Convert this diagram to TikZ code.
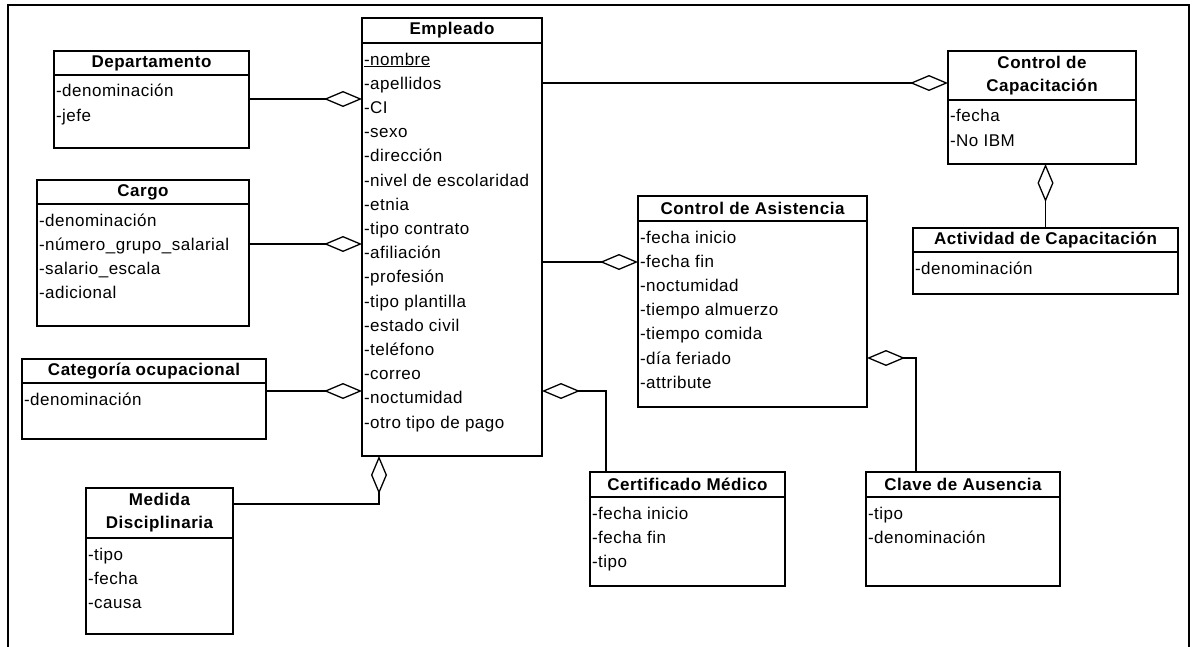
\documentclass[tikz,border=0pt]{standalone}
\usepackage{fontspec}
\setmainfont{Liberation Sans}[LetterSpace=3.0]
\usetikzlibrary{arrows.meta,positioning}
\newcommand{\attrs}[3]{\parbox[c][#2][t]{#1}{\fontsize{17}{24.2}\selectfont\raggedright\leftskip=2pt\rule{0pt}{22pt}#3}}
\tikzset{
  clshead/.style={draw, line width=1.3pt, anchor=north west, inner sep=0pt, outer sep=0pt, align=center, font=\fontsize{17}{23}\selectfont\bfseries},
  clsbody/.style={draw, line width=1.3pt, inner sep=0pt, outer sep=0pt},
  aggr/.style={-{Diamond[open,length=38pt,width=16pt]}, line width=1.3pt}
}

\begin{document}
\begin{tikzpicture}[x=1pt, y=-1pt]
\useasboundingbox (0,0) rectangle (1193,647);
\draw[line width=2pt] (8,647) -- (8,5) -- (1189,5) -- (1189,647);

\node[clshead, minimum width=180pt, minimum height=25pt] (emp) at (362,18) {Empleado};
\node[clsbody, below=0pt of emp] (empb) {\attrs{180pt}{413pt}{\underline{-nombre}\\-apellidos\\-CI\\-sexo\\-dirección\\-nivel de escolaridad\\-etnia\\-tipo contrato\\-afiliación\\-profesión\\-tipo plantilla\\-estado civil\\-teléfono\\-correo\\-noctumidad\\-otro tipo de pago}};

\node[clshead, minimum width=195pt, minimum height=24pt] (dep) at (54,51) {Departamento};
\node[clsbody, below=0pt of dep] (depb) {\attrs{195pt}{73pt}{-denominación\\-jefe}};

\node[clshead, minimum width=212pt, minimum height=24pt] (cargo) at (37,180) {Cargo};
\node[clsbody, below=0pt of cargo] (cargob) {\attrs{212pt}{122pt}{-denominación\\-número\_grupo\_salarial\\-salario\_escala\\-adicional}};

\node[clshead, minimum width=244pt, minimum height=24pt] (cat) at (22,359) {Categoría ocupacional};
\node[clsbody, below=0pt of cat] (catb) {\attrs{244pt}{56pt}{-denominación}};

\node[clshead, minimum width=147pt, minimum height=50pt] (med) at (86,488) {Medida\\Disciplinaria};
\node[clsbody, below=0pt of med] (medb) {\attrs{147pt}{96pt}{-tipo\\-fecha\\-causa}};

\node[clshead, minimum width=188pt, minimum height=49pt] (cc) at (948,51) {Control de\\Capacitación};
\node[clsbody, below=0pt of cc] (ccb) {\attrs{188pt}{64pt}{-fecha\\-No IBM}};

\node[clshead, minimum width=265pt, minimum height=24pt] (act) at (913,228) {Actividad de Capacitación};
\node[clsbody, below=0pt of act] (actb) {\attrs{265pt}{42pt}{-denominación}};

\node[clshead, minimum width=229pt, minimum height=25pt] (ca) at (638,196) {Control de Asistencia};
\node[clsbody, below=0pt of ca] (cab) {\attrs{229pt}{186pt}{-fecha inicio\\-fecha fin\\-noctumidad\\-tiempo almuerzo\\-tiempo comida\\-día feriado\\-attribute}};

\node[clshead, minimum width=195pt, minimum height=25pt] (cert) at (590,472) {Certificado Médico};
\node[clsbody, below=0pt of cert] (certb) {\attrs{195pt}{89pt}{-fecha inicio\\-fecha fin\\-tipo}};

\node[clshead, minimum width=194pt, minimum height=25pt] (clave) at (866,472) {Clave de Ausencia};
\node[clsbody, below=0pt of clave] (claveb) {\attrs{194pt}{89pt}{-tipo\\-denominación}};

\draw[aggr] ([yshift=12.5pt]depb.east) -- ([yshift=12.5pt]depb.east -| empb.west);
\draw[aggr] ([yshift=21pt]cargob.east) -- ([yshift=21pt]cargob.east -| empb.west);
\draw[aggr] ([yshift=20pt]catb.east) -- ([yshift=20pt]catb.east -| empb.west);
\draw[aggr] ([yshift=9pt]med.east) -| ([xshift=-73pt]empb.south);
\draw[aggr] ([yshift=166.5pt]empb.east) -- ([yshift=166.5pt]empb.east -| cc.west);
\draw[aggr] ([yshift=-12.5pt]empb.east) -- ([yshift=-12.5pt]empb.east -| cab.west);
\draw[aggr] ([xshift=-81.5pt]cert.north) |- ([yshift=-141.5pt]empb.east);
\draw[aggr] ([xshift=-47pt]clave.north) |- ([yshift=-44pt]cab.east);
\draw[aggr] (act.north) -- (act.north |- ccb.south);
\end{tikzpicture}
\end{document}
